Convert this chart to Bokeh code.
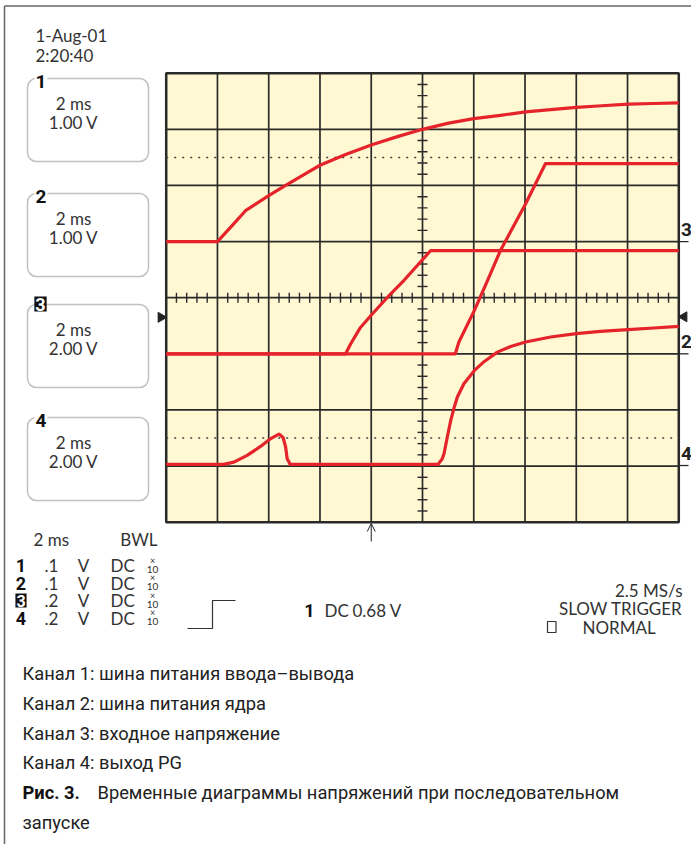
import numpy as np
from bokeh.plotting import figure
from bokeh.models import Range1d, Label, BoxAnnotation, Arrow, OpenHead
from bokeh.embed import file_html
from bokeh.resources import INLINE

# ---- trace data: time in divisions (2 ms/div), level in divisions from graticule bottom ----
ch1_t = [0.0, 1.0, 1.29, 1.547, 2.0, 2.33, 2.72, 3.0, 3.50, 4.0, 4.51, 5.0, 5.51, 6.0, 6.52, 7.01, 7.50, 8.0, 8.50, 9.02, 9.50, 10.0]
ch1_v = [5.0, 5.0, 5.29, 5.55, 5.82, 6.00, 6.21, 6.36, 6.55, 6.72, 6.87, 7.00, 7.11, 7.19, 7.25, 7.31, 7.35, 7.39, 7.42, 7.45, 7.46, 7.47]

ch3a_t = [0.0, 3.50, 3.60, 3.79, 4.02, 4.38, 4.64, 5.16, 10.0]
ch3a_v = [3.00, 3.00, 3.18, 3.47, 3.71, 4.07, 4.31, 4.84, 4.84]

ch3b_t = [0.0, 5.64, 5.71, 6.01, 6.27, 6.52, 7.01, 7.40, 10.0]
ch3b_v = [3.00, 3.00, 3.21, 3.77, 4.31, 4.84, 5.67, 6.39, 6.39]

ch4_t = [0.0, 1.12, 1.32, 1.58, 1.84, 2.04, 2.20, 2.28, 2.33, 2.36, 2.42, 5.30, 5.38, 5.42, 5.48, 5.55, 5.61, 5.68, 5.81, 5.87,
         6.01, 6.20, 6.46, 6.72, 7.01, 7.50, 8.00, 8.47, 9.01, 9.51, 10.0]
ch4_v = [1.03, 1.03, 1.07, 1.19, 1.35, 1.49, 1.57, 1.51, 1.34, 1.13, 1.03, 1.03, 1.12, 1.22, 1.50, 1.81, 2.02, 2.23, 2.47, 2.54,
         2.70, 2.86, 3.03, 3.13, 3.21, 3.30, 3.36, 3.40, 3.43, 3.46, 3.49]

dotted_levels = [6.5, 1.5]
ref_marker_levels = {"3": 5.0, "2": 3.0, "4": 1.01}
trigger_level = 3.65
trigger_time = 4.0

box_titles = ["1", "2", "3", "4"]
box_time = ["2 ms", "2 ms", "2 ms", "2 ms"]
box_volts = ["1.00 V", "1.00 V", "2.00 V", "2.00 V"]
row_scale = [".1", ".1", ".2", ".2"]

captions = ["Канал 1: шина питания ввода–вывода",
            "Канал 2: шина питания ядра",
            "Канал 3: входное напряжение",
            "Канал 4: выход PG"]

# ---- picture-pixel -> graticule-division helpers (for layout of decorations) ----
GX0, GX1, GY0, GY1 = 165.7, 678.3, 72.7, 521.7
DX = (GX1 - GX0) / 10.0
DY = (GY1 - GY0) / 8.0
def X(px):
    return (px - GX0) / DX
def Y(py):
    return (GY1 - py) / DY

W, H = 691, 844
p = figure(width=W, height=H, x_range=Range1d(X(0), X(W)), y_range=Range1d(Y(H), Y(0)),
           x_axis_location=None, y_axis_location=None, toolbar_location=None,
           min_border=0, title=None, output_backend="svg")
p.outline_line_color = None
p.grid.visible = False
p.background_fill_color = "white"
p.border_fill_color = "white"

OSC = "Lato"
BOLD = "Roboto"
CAP = "Roboto"
TXT = "#333333"
RED = "#E5232B"
GRID = "#2a2a2a"

# page frame (top and left rules)
p.line([X(4), X(W)], [Y(5.5), Y(5.5)], line_color="#666666", line_width=1.5)
p.line([X(4), X(4)], [Y(5.5), Y(H)], line_color="#666666", line_width=1.5)

# graticule
p.quad(left=[0], right=[10], bottom=[0], top=[8], fill_color="#FFF8D3", line_color=None)
xs = list(range(0, 11))
ys = list(range(0, 9))
p.segment(x0=xs, y0=[0] * len(xs), x1=xs, y1=[8] * len(xs), line_color=GRID, line_width=1.7)
p.segment(x0=[0] * len(ys), y0=ys, x1=[10] * len(ys), y1=ys, line_color=GRID, line_width=1.7)
p.quad(left=[0], right=[10], bottom=[0], top=[8], fill_color=None, line_color=GRID, line_width=2.5)

minor_x = [v for v in np.arange(0.2, 10.0, 0.2) if abs(v - round(v)) > 1e-6]
minor_y = [v for v in np.arange(0.2, 8.0, 0.2) if abs(v - round(v)) > 1e-6]
tx = 5.0 / DY
ty = 5.0 / DX
p.segment(x0=minor_x, y0=[4 - tx] * len(minor_x), x1=minor_x, y1=[4 + tx] * len(minor_x), line_color=GRID, line_width=1.4)
p.segment(x0=[5 - ty] * len(minor_y), y0=minor_y, x1=[5 + ty] * len(minor_y), y1=minor_y, line_color=GRID, line_width=1.4)

for lv in dotted_levels:
    p.line([0, 10], [lv, lv], line_color="#444444", line_width=1.5, line_dash="2 6")

# traces
for t, v in [(ch1_t, ch1_v), (ch3a_t, ch3a_v), (ch3b_t, ch3b_v), (ch4_t, ch4_v)]:
    p.line(t, v, line_color=RED, line_width=3.2, line_join="round")

def lab(px, py, text, size="17px", align="left", font=OSC, style="normal", color=TXT, **kw):
    l = Label(x=X(px), y=Y(py), text=text, text_font=font, text_font_size=size, text_font_style=style,
              text_color=color, text_align=align, text_baseline="middle", **kw)
    p.add_layout(l)
    return l

# right-side reference markers
for name, lv in ref_marker_levels.items():
    p.line([10, X(688)], [lv, lv], line_color=GRID, line_width=1.3)
    lab(680.5, (GY1 - lv * DY) - 12.0, name, size="19px", font=BOLD, style="bold", color="#222222")

# trigger level markers
p.scatter([X(160.5)], [trigger_level], marker="triangle", size=10, angle=-np.pi / 2, color="#222222")
p.scatter([X(683.5)], [trigger_level + 0.01], marker="triangle", size=10, angle=np.pi / 2, color="#222222")

# trigger time arrow
p.add_layout(Arrow(end=OpenHead(size=8, line_width=1, line_color="#222222"), x_start=trigger_time, y_start=Y(541),
                   x_end=trigger_time, y_end=Y(523), line_width=1, line_color="#222222"))

# date
lab(35, 35, "1-Aug-01")
lab(35, 54.5, "2:20:40")

# channel boxes
box_tops = [78, 193, 304, 417]
for i, top in enumerate(box_tops):
    bot = top + 83
    p.add_layout(BoxAnnotation(left=X(27), right=X(148), top=Y(top), bottom=Y(bot), fill_color=None,
                               fill_alpha=0, line_color="#333333", line_width=1.5, border_radius=9))
for i, top in enumerate(box_tops):
    if box_titles[i] == "3":
        lab(40, top - 0.5, box_titles[i], size="18px", font=BOLD, align="center", style="bold", color="white",
            background_fill_color="#111111", padding=1)
    else:
        lab(40.5, top + 3.0, box_titles[i], size="19px", font=BOLD, align="center", style="bold", color="#111111",
            background_fill_color="white", padding=1)
    lab(73, top + 24.5, box_time[i], align="center")
    lab(73, top + 43.5, box_volts[i], align="center")

# bottom-left channel table
lab(33, 539, "2 ms")
lab(157, 539, "BWL", align="right")
row_y = [565, 582.5, 600, 617.5]
for i, ry in enumerate(row_y):
    if box_titles[i] == "3":
        lab(20.5, ry, box_titles[i], size="16px", font=BOLD, align="center", style="bold", color="white",
            background_fill_color="#111111", padding=1)
    else:
        lab(20.5, ry, box_titles[i], size="18px", font=BOLD, align="center", style="bold", color="#111111")
    lab(44, ry, row_scale[i])
    lab(83, ry, "V", align="center")
    lab(110, ry, "DC")
    lab(152, ry - 5.5, "×", size="9px", align="center")
    lab(152, ry + 3.5, "10", size="10px", align="center")

# trigger slope symbol
p.line([X(187), X(212), X(212), X(235)], [Y(628), Y(628), Y(600), Y(600)], line_color="#333333", line_width=1.2)
lab(309, 610, "1", size="18px", font=BOLD, style="bold", color="#111111", align="center")
lab(324, 610, "DC")
lab(352, 610, "0.68 V")

# right-bottom info
lab(682, 590, "2.5 MS/s", align="right")
lab(682, 608, "SLOW TRIGGER", align="right")
p.quad(left=[X(547)], right=[X(555.5)], top=[Y(621)], bottom=[Y(632)], fill_color=None, line_color="#333333", line_width=1.2)
lab(582, 627, "NORMAL")

# caption
cap_y = [673, 703, 733, 762]
for txt, cy in zip(captions, cap_y):
    lab(22, cy, txt, size="18.3px", font=CAP, color="#222222")
lab(22, 792, "Рис. 3.", size="18.3px", font=CAP, style="bold", color="#111111")
lab(97, 792, "Временные диаграммы напряжений при последовательном", size="18.3px", font=CAP, color="#222222")
lab(22, 822, "запуске", size="18.3px", font=CAP, color="#222222")

open("out.html", "w").write(file_html(p, INLINE))
